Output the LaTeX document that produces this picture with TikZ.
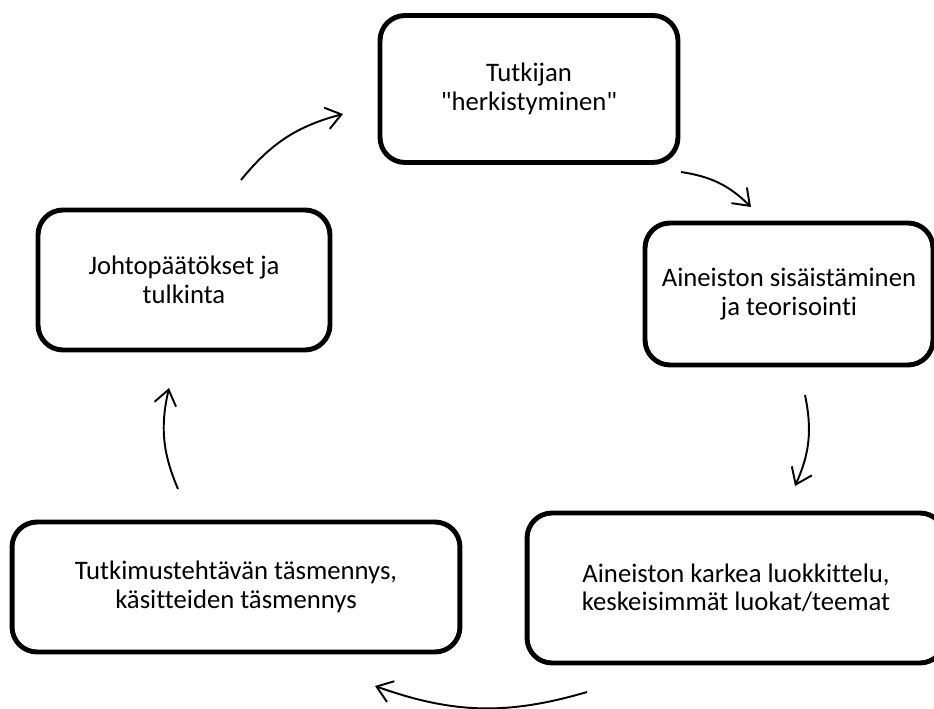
\documentclass[tikz,border=0pt]{standalone}
\usepackage{fontspec}
\setmainfont{Carlito}[Ligatures={TeXOff,CommonOff}]
\usepackage{tikz}
\usetikzlibrary{arrows.meta}

\begin{document}
\begin{tikzpicture}[
    x=0.02cm, y=-0.02cm,
    phase/.style={draw, line width=2.8pt, rounded corners=0.5cm, align=center, font=\fontsize{15.2}{16.2}\selectfont},
    cyc/.style={line width=1.1pt, -{Straight Barb[length=3mm, width=4.4mm, line width=1.1pt]}, bend left=18}
]
\useasboundingbox (0,0) rectangle (934,709);

\node[phase, minimum width=5.96cm, minimum height=2.94cm] (herk) at (529,89) {Tutkijan\\"herkistyminen"};
\node[phase, minimum width=5.76cm, minimum height=2.84cm] (sisa) at (789,294) {Aineiston sisäistäminen\\ja teorisointi};
\node[phase, minimum width=8.36cm, minimum height=3.0cm] (luok) at (736,588) {Aineiston karkea luokkittelu,\\keskeisimmät luokat/teemat};
\node[phase, minimum width=8.96cm, minimum height=2.6cm] (tasm) at (236,587) {Tutkimustehtävän täsmennys,\\käsitteiden täsmennys};
\node[phase, minimum width=5.84cm, minimum height=2.8cm] (joht) at (184,280) {Johtopäätökset ja\\tulkinta};

% arrow ends
\coordinate (a1) at (241,180);
\coordinate (b1) at (343,114);
\coordinate (a2) at (681,172);
\coordinate (b2) at (751,207);
\coordinate (a3) at (805,395);
\coordinate (b3) at (795,486);
\coordinate (a4) at (587,692);
\coordinate (b4) at (375,686);
\coordinate (a5) at (178,489);
\coordinate (b5) at (169,388);

\draw[cyc] (a1) to (b1);
\draw[cyc] (a2) to (b2);
\draw[cyc] (a3) to (b3);
\draw[cyc] (a4) to (b4);
\draw[cyc] (a5) to (b5);
\end{tikzpicture}
\end{document}
